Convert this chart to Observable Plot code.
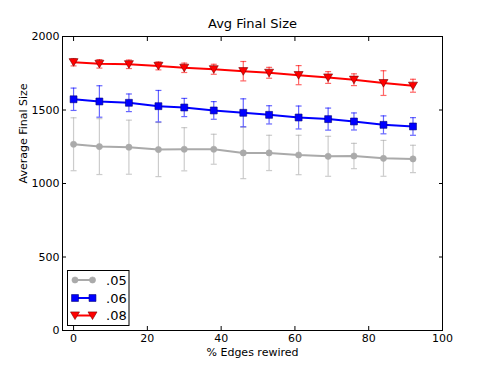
<!DOCTYPE html>
<html>
<head>
<meta charset="utf-8">
<script src="https://cdn.jsdelivr.net/npm/d3@7"></script>
<script src="https://cdn.jsdelivr.net/npm/@observablehq/plot@0.6"></script>
<style>
  body { margin: 0; background: #fff; font-family: "DejaVu Sans", sans-serif; }
  #wrap { position: relative; width: 491px; height: 368px; }
  #legend { position: absolute; left: 0; top: 0; }
</style>
</head>
<body>
<div id="wrap"></div>
<script>
// ---- data ----
const xs = [0, 7, 15, 23, 30, 38, 46, 53, 61, 69, 76, 84, 92];
const seriesNames = [".05", ".06", ".08"];
const mean05 = [1267, 1251, 1247, 1231, 1233, 1233, 1208, 1208, 1194, 1185, 1187, 1171, 1167];
const err05  = [180, 190, 184, 184, 147, 102, 175, 120, 134, 136, 86, 122, 93];
const mean06 = [1573, 1558, 1549, 1526, 1517, 1497, 1481, 1467, 1449, 1438, 1422, 1399, 1388];
const err06  = [76, 107, 60, 107, 62, 60, 95, 62, 78, 75, 58, 61, 60];
const mean08 = [1825, 1814, 1811, 1800, 1787, 1777, 1764, 1753, 1737, 1721, 1706, 1683, 1665];
const err08  = [25, 29, 29, 27, 32, 34, 66, 37, 65, 40, 40, 84, 44];
const xTicks = [0, 20, 40, 60, 80, 100];
const yTicks = [0, 500, 1000, 1500, 2000];

const colors = {".05": "#aaaaaa", ".06": "#0000ff", ".08": "#ff0000"};
const edges = {".05": "#aaaaaa", ".06": "#00007a", ".08": "#7a0000"};

const triDown = {draw(ctx, size) {
  const r = Math.sqrt(size / Math.PI);
  ctx.moveTo(-r, -r * 0.8); ctx.lineTo(r, -r * 0.8); ctx.lineTo(0, r * 0.9); ctx.closePath();
}};
const capSym = {draw(ctx, size) {
  const r = Math.sqrt(size / Math.PI);
  ctx.moveTo(-r, 0); ctx.lineTo(r, 0);
}};
const symbolObj = {".05": "circle", ".06": "square", ".08": triDown};
const sizes = {".05": 3.1, ".06": 3.9, ".08": 4.5};

const table = [];
[[".05", mean05, err05], [".06", mean06, err06], [".08", mean08, err08]].forEach(([s, m, e]) => {
  xs.forEach((x, i) => table.push({series: s, x, y: m[i], lo: m[i] - e[i], hi: m[i] + e[i]}));
});

const marks = [];
for (const s of seriesNames) {
  const d = table.filter(t => t.series === s);
  marks.push(Plot.ruleX(d, {x: "x", y1: "lo", y2: "hi", stroke: colors[s], strokeOpacity: 0.6, strokeWidth: 1.2}));
  marks.push(Plot.dot(d, {x: "x", y: "lo", symbol: capSym, r: 3, stroke: colors[s], strokeOpacity: 0.6, strokeWidth: 1.2, fill: "none"}));
  marks.push(Plot.dot(d, {x: "x", y: "hi", symbol: capSym, r: 3, stroke: colors[s], strokeOpacity: 0.6, strokeWidth: 1.2, fill: "none"}));
}
for (const s of seriesNames) {
  const d = table.filter(t => t.series === s);
  marks.push(Plot.line(d, {x: "x", y: "y", stroke: colors[s], strokeWidth: 2}));
  marks.push(Plot.dot(d, {x: "x", y: "y", symbol: symbolObj[s], r: sizes[s], fill: colors[s], stroke: edges[s], strokeWidth: 0.6}));
}

const chart = Plot.plot({
  width: 491,
  height: 368,
  marginLeft: 62,
  marginRight: 49,
  marginTop: 36,
  marginBottom: 38,
  style: {fontFamily: "DejaVu Sans, sans-serif", fontSize: "11px", color: "#000", background: "#fff"},
  x: {domain: [-3, 100]},
  y: {domain: [0, 2000]},
  marks: [
    ...marks,
    Plot.frame({stroke: "#000", strokeWidth: 1}),
    Plot.axisX(xTicks, {anchor: "bottom", tickSize: -4, tickPadding: 8, tickFormat: d => String(d), fontSize: 11, label: null}),
    Plot.axisX(xTicks, {anchor: "top", tickSize: -4, tickFormat: () => "", label: null}),
    Plot.axisY(yTicks, {anchor: "left", tickSize: -4, tickPadding: 7, tickFormat: d => String(d), fontSize: 11, label: null}),
    Plot.axisY(yTicks, {anchor: "right", tickSize: -4, tickFormat: () => "", label: null}),
    Plot.text(["Avg Final Size"], {frameAnchor: "top", dy: -18, fontSize: 13}),
    Plot.text(["% Edges rewired"], {frameAnchor: "bottom", dy: 25, fontSize: 11}),
    Plot.text(["Average Final Size"], {frameAnchor: "left", dx: -39, rotate: -90, fontSize: 11})
  ]
});
document.getElementById("wrap").appendChild(chart);

// legend overlay
const lg = d3.select("#wrap").append("svg").attr("id", "legend")
  .attr("width", 491).attr("height", 368).style("pointer-events", "none");
lg.append("rect").attr("x", 67.5).attr("y", 270.5).attr("width", 61.5).attr("height", 55)
  .attr("fill", "#fff").attr("stroke", "#000").attr("stroke-width", 1);
const legendY = [280, 298, 315.5];
seriesNames.forEach((s, i) => {
  const y = legendY[i];
  const g = lg.append("g");
  g.append("line").attr("x1", 75).attr("x2", 92.5).attr("y1", y).attr("y2", y)
    .attr("stroke", colors[s]).attr("stroke-width", 2);
  [75, 92.5].forEach(x => {
    const sym = s === ".08" ? triDown : (s === ".06" ? d3.symbolSquare : d3.symbolCircle);
    const r = sizes[s];
    g.append("path").attr("d", d3.symbol(sym, Math.PI * r * r)())
      .attr("transform", `translate(${x},${y})`)
      .attr("fill", colors[s]).attr("stroke", edges[s]).attr("stroke-width", 0.6);
  });
  g.append("text").attr("x", 106).attr("y", y).attr("dy", "0.36em")
    .attr("font-family", "DejaVu Sans, sans-serif").attr("font-size", 13).text(s);
});
</script>
</body>
</html>
